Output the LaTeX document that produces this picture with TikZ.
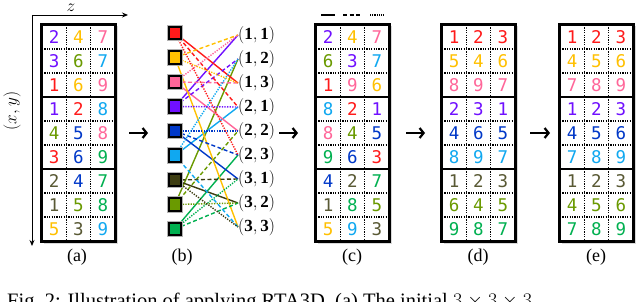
\documentclass[tikz,border=0pt]{standalone}
\usepackage{fontspec}
\setmainfont{Liberation Serif}
\newfontfamily\digfont{DejaVu Sans Mono}
\usetikzlibrary{arrows.meta,calc}
\definecolor{k1}{HTML}{FF1A1A}
\definecolor{k2}{HTML}{FFC000}
\definecolor{k3}{HTML}{FF6699}
\definecolor{k4}{HTML}{7010FF}
\definecolor{k5}{HTML}{0038C8}
\definecolor{k6}{HTML}{10A8F0}
\definecolor{k7}{HTML}{3C3C10}
\definecolor{k8}{HTML}{6A9A00}
\definecolor{k9}{HTML}{00B050}
\colorlet{krd}{k1}\colorlet{kor}{k2}\colorlet{kpk}{k3}
\colorlet{kpu}{k4}\colorlet{kbl}{k5}\colorlet{kcy}{k6}
\colorlet{kdk}{k7!85!white}\colorlet{kol}{k8}\colorlet{kgn}{k9}
\tikzset{
  gridbox/.style={draw=black,line width=2pt,fill=white,minimum width=73pt,minimum height=216pt,inner sep=0pt},
  sepline/.style={line width=2pt},
  dotline/.style={line width=1.6pt,dash pattern=on 1.2pt off 1.2pt},
  digit/.style={font=\digfont\fontsize{17.5}{17.5}\selectfont,inner sep=0pt},
  panellabel/.style={font=\fontsize{18}{20}\selectfont,inner sep=0pt},
  colsq/.style={draw=black,line width=1.8pt,minimum size=12.5pt,inner sep=0pt,preaction={draw=black!30,line width=3.6pt}},
  poslabel/.style={font=\fontsize{17}{18}\selectfont,inner sep=0pt,anchor=west},
  edgesolid/.style={line width=1.4pt},
  edgedash/.style={line width=1.4pt,dash pattern=on 4pt off 2.5pt},
  edgedot/.style={line width=1.4pt,dash pattern=on 1.3pt off 1.3pt},
  bigarrow/.style={line width=2.2pt,-{Straight Barb[length=4pt,width=10pt]}},
  axisarrow/.style={line width=0.9pt,-{Stealth[length=6pt,width=5pt]}}
}
\newcommand\drawgrid[4]{%
  \fill[black!15] (#2+1.5,#3+1.5) rectangle (#2+75.5,#3+218.5);
  \node[gridbox] (#1) at (#2+36.5,#3+108) {};
  \foreach \rr in {1,2,4,5,7,8}{\draw[dotline] (#2,#3+\rr*24) -- (#2+73,#3+\rr*24);}
  \foreach \cc in {1,2}{\draw[dotline] (#2+\cc*24.333,#3) -- (#2+\cc*24.333,#3+216);}
  \draw[sepline] (#2,#3+72) -- (#2+73,#3+72);
  \draw[sepline] (#2,#3+144) -- (#2+73,#3+144);
  \draw[line width=2pt] (#1.north west) rectangle (#1.south east);
  \foreach \d/\c [count=\i from 0] in {#4}{%
    \pgfmathtruncatemacro\rw{int(\i/3)}%
    \pgfmathtruncatemacro\cl{mod(\i,3)}%
    \node[digit,text=k\c] (#1-\i) at (#2+\cl*24.333+12.17,#3+\rw*24+12.5) {\d};
  }%
}
\begin{document}
\begin{tikzpicture}[x=1pt,y=-1pt]
\clip (0,0) rectangle (640,302);
\useasboundingbox (0,0) rectangle (640,302);
% axes
\coordinate (org) at (32,15);
\coordinate (zend) at (128,15);
\coordinate (xyend) at (32,246);
\draw[axisarrow] (org) -- (zend);
\draw[axisarrow] (org) -- (xyend);
\node[font=\fontsize{18}{18}\selectfont,inner sep=0pt] (zlab) at (71,7.5) {$z$};
\node[font=\fontsize{19}{19}\selectfont,inner sep=0pt,rotate=90] (xylab) at (12,111) {$(x,y)$};
% grid (a)
\drawgrid{ga}{42}{25}{2/pu,4/or,7/pk,3/pu,6/ol,7/cy,1/rd,6/or,9/pk,1/pu,2/rd,8/cy,4/ol,5/bl,8/pk,3/rd,6/bl,9/gn,2/dk,4/bl,7/gn,1/dk,5/ol,8/gn,5/or,3/dk,9/cy}
% grid (c)
\drawgrid{gc}{316}{25}{2/pu,4/or,7/pk,6/ol,3/pu,7/cy,1/rd,9/pk,6/or,8/cy,2/rd,1/pu,8/pk,4/ol,5/bl,9/gn,6/bl,3/rd,4/bl,2/dk,7/gn,1/dk,8/gn,5/ol,5/or,9/cy,3/dk}
% grid (d)
\drawgrid{gd}{442}{25}{1/rd,2/rd,3/rd,5/or,4/or,6/or,8/pk,9/pk,7/pk,2/pu,3/pu,1/pu,4/bl,6/bl,5/bl,8/cy,9/cy,7/cy,1/dk,2/dk,3/dk,6/ol,4/ol,5/ol,9/gn,8/gn,7/gn}
% grid (e)
\drawgrid{ge}{560}{25}{1/rd,2/rd,3/rd,4/or,5/or,6/or,7/pk,8/pk,9/pk,1/pu,2/pu,3/pu,4/bl,5/bl,6/bl,7/cy,8/cy,9/cy,1/dk,2/dk,3/dk,4/ol,5/ol,6/ol,7/gn,8/gn,9/gn}
% legend above (c)
\coordinate (la1) at (321,15); \coordinate (lb1) at (335,15);
\coordinate (la2) at (343,15); \coordinate (lb2) at (361,15);
\coordinate (la3) at (370,15); \coordinate (lb3) at (384,15);
\draw[edgesolid] (la1) -- (lb1);
\draw[edgedash] (la2) -- (lb2);
\draw[line width=1.2pt,dash pattern=on 0.9pt off 0.9pt] (la3) -- (lb3);
% panel (b): position labels
\foreach \lab [count=\i] in {(1,1),(1,2),(1,3),(2,1),(2,2),(2,3),(3,1),(3,2),(3,3)}{
  \node[poslabel] (p\i) at (238,11+24*\i) {$\mathbf{\lab}$};
}
% edges
\foreach \s/\p in {4/1,8/2,1/3,6/4,3/5,9/6,5/7,7/8,2/9}{\draw[edgesolid,draw=k\s] (175,8.5+24.5*\s) -- (p\p.west);}
\foreach \s/\p in {2/1,4/2,3/3,1/4,8/5,5/6,7/7,9/8,6/9}{\draw[edgedash,draw=k\s] (175,8.5+24.5*\s) -- (p\p.west);}
\foreach \s/\p in {3/1,6/2,2/3,4/4,5/5,1/6,9/7,8/8,7/9}{\draw[edgedot,draw=k\s] (175,8.5+24.5*\s) -- (p\p.west);}
% squares
\foreach \i in {1,...,9}{
  \node[colsq,fill=k\i] (s\i) at (175,8.5+24.5*\i) {};
}
% big arrows
\draw[bigarrow] ([xshift=13pt]ga.east) -- ([xshift=32pt]ga.east);
\coordinate (bx) at (279,133);
\draw[bigarrow] (bx) -- ([xshift=-17pt]gc.west);
\draw[bigarrow] ([xshift=16pt]gc.east) -- ([xshift=35pt]gc.east);
\draw[bigarrow] ([xshift=14pt]gd.east) -- ([xshift=34pt]gd.east);
% panel labels
\node[panellabel] (la) at (77,257) {(a)};
\node[panellabel] (lb) at (182,257) {(b)};
\node[panellabel] (lc) at (352,257) {(c)};
\node[panellabel] (ld) at (478,257) {(d)};
\node[panellabel] (le) at (596,257) {(e)};
% caption (cut off at the bottom)
\node[anchor=base west,inner sep=0pt,font=\fontsize{20.5}{22}\selectfont] (cap) at (7,307.5) {Fig.~2: Illustration of applying RTA3D. (a) The initial $3\times3\times3$};
\end{tikzpicture}
\end{document}
